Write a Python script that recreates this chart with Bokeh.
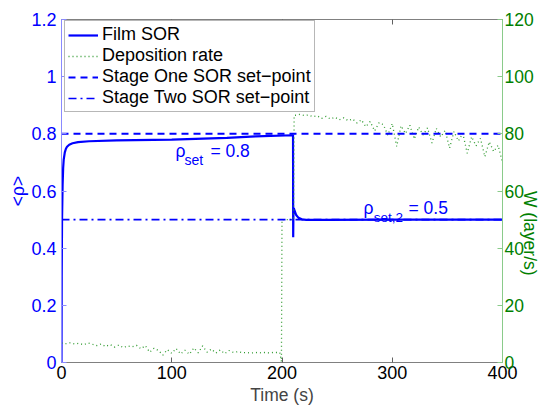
import math
from bokeh.plotting import figure
from bokeh.models import Range1d, LinearAxis, Legend, LegendItem, Label, FixedTicker
from bokeh.embed import file_html
from bokeh.resources import INLINE

# ---------------- data ----------------
sor_t = [0, 0.2, 0.5, 1, 1.5, 2, 3, 4, 5, 7, 10, 15, 25, 50, 100, 150, 176, 209.8,
         210.0, 210.15, 210.35, 210.7, 211.5, 213, 215, 218, 222, 240, 300, 400]
sor_v = [0, 0.30, 0.50, 0.62, 0.68, 0.71, 0.735, 0.748, 0.755, 0.762, 0.767, 0.771, 0.774, 0.777, 0.780, 0.786, 0.791, 0.795,
         0.795, 0.438, 0.52, 0.54, 0.53, 0.515, 0.506, 0.501, 0.499, 0.499, 0.5, 0.5]

dep_t = list(range(0, 197, 4)) + [198, 199.5, 200, 210.5, 211] + list(range(212, 401, 4))
dep_v = [6.8, 6.6, 6.9, 6.5, 6.7, 6.2, 6.8, 6.4,
         5.9, 6.5, 5.6, 6.3, 5.4, 6.1, 5.2, 5.8, 5.5, 6.0,
         4.8, 5.9, 3.6, 5.0, 4.2, 2.6, 4.5, 3.2, 4.9, 3.0, 4.3, 2.9, 5.1, 3.4, 5.8, 3.6, 4.7, 3.3, 4.4, 3.1, 4.2, 3.5, 3.8,
         3.4, 3.5, 3.3, 3.5, 3.4, 3.5, 3.4, 3.5, 3.5,
         3.5, 0.3, 50.0, 50.0, 86.5,
         86.5, 86.8, 86.4, 86.6, 86.0, 86.3, 85.4, 86.1, 85.2, 85.8,
         84.9, 85.6, 84.6, 85.2, 83.8, 84.9, 82.5, 84.3, 81.0, 83.9,
         83.2, 79.5, 83.6, 75.6, 82.8, 80.1, 83.0, 78.2, 82.4, 79.6,
         82.1, 76.8, 81.9, 78.9, 81.2, 75.0, 80.8, 77.5, 80.2, 73.2,
         79.0, 75.8, 78.4, 72.0, 77.2, 73.8, 76.0, 70.0]

setpoint_t = [0, 400]
stage_one = [0.8, 0.8]
stage_two = [0.5, 0.5]

x_ticks = [0, 100, 200, 300, 400]
rho_ticks = [0, 0.2, 0.4, 0.6, 0.8, 1, 1.2]
rho_tick_labels = ["0", "0.2", "0.4", "0.6", "0.8", "1", "1.2"]
w_ticks = [0, 20, 40, 60, 80, 100, 120]

FONT = "Liberation Sans"
BLUE = "#0000ff"
GREEN_TXT = "#008000"
GREEN_LINE = "#2f9a2f"
TICK_FS = "18px"
LBL_FS = "17.5px"

p = figure(width=554, height=407, output_backend="svg", toolbar_location=None,
           x_range=Range1d(0, 400), y_range=Range1d(0, 1.2),
           min_border_left=61, min_border_right=52, min_border_top=19, min_border_bottom=40)
p.extra_y_ranges = {"w": Range1d(0, 120)}
p.xgrid.visible = False
p.ygrid.visible = False
p.outline_line_color = None
p.background_fill_color = "white"
p.border_fill_color = "white"

# bottom axis
xa = p.xaxis[0]
xa.ticker = FixedTicker(ticks=x_ticks)
xa.axis_label = "Time (s)"
xa.axis_line_color = "#808080"
xa.major_tick_line_color = "#606060"
xa.major_tick_in = 5
xa.major_tick_out = 0
xa.minor_tick_line_color = None
xa.major_label_text_font = FONT
xa.major_label_text_font_size = TICK_FS
xa.major_label_text_color = "black"
xa.major_label_standoff = 3
xa.axis_label_text_font = FONT
xa.axis_label_text_font_size = LBL_FS
xa.axis_label_text_font_style = "normal"
xa.axis_label_standoff = 3

# left axis
ya = p.yaxis[0]
ya.ticker = FixedTicker(ticks=rho_ticks)
ya.major_label_overrides = dict(zip(rho_ticks, rho_tick_labels))
ya.axis_label = "<ρ>"
ya.axis_line_color = "#8a8aff"
ya.major_tick_line_color = "#8a8aff"
ya.major_tick_in = 5
ya.major_tick_out = 0
ya.minor_tick_line_color = None
ya.major_label_text_font = FONT
ya.major_label_text_font_size = TICK_FS
ya.major_label_text_color = BLUE
ya.major_label_standoff = 5
ya.axis_label_text_font = FONT
ya.axis_label_text_font_size = LBL_FS
ya.axis_label_text_font_style = "normal"
ya.axis_label_text_color = BLUE
ya.axis_label_standoff = 0

# right axis
ra = LinearAxis(y_range_name="w", ticker=FixedTicker(ticks=w_ticks), axis_label="W (layer/s)")
ra.axis_line_color = "#8acb8a"
ra.major_tick_line_color = "#8acb8a"
ra.major_tick_in = 5
ra.major_tick_out = 0
ra.minor_tick_line_color = None
ra.major_label_text_font = FONT
ra.major_label_text_font_size = "17.5px"
ra.major_label_text_color = GREEN_TXT
ra.major_label_standoff = 2
ra.axis_label_text_font = FONT
ra.axis_label_text_font_size = LBL_FS
ra.axis_label_text_font_style = "normal"
ra.axis_label_text_color = GREEN_TXT
ra.axis_label_standoff = -7
ra.axis_label_orientation = -math.pi / 2
p.add_layout(ra, "right")

# top axis (ticks only, labels not drawn)
ta = LinearAxis(ticker=FixedTicker(ticks=x_ticks))
ta.axis_line_color = "#808080"
ta.major_tick_line_color = "#606060"
ta.major_tick_in = 5
ta.major_tick_out = 0
ta.minor_tick_line_color = None
ta.major_label_text_font_size = "1px"
ta.major_label_text_color = None
ta.major_label_text_alpha = 0
ta.major_label_standoff = 0
p.add_layout(ta, "above")

# glyphs
r_sor = p.line(sor_t, sor_v, line_color=BLUE, line_width=2.2)
r_dep = p.line(dep_t, dep_v, y_range_name="w", line_color=GREEN_LINE, line_width=1.3, line_dash="1 3")
r_s1 = p.line(setpoint_t, stage_one, line_color=BLUE, line_width=2, line_dash="7 5")
r_s2 = p.line(setpoint_t, stage_two, line_color=BLUE, line_width=1.6, line_dash="8 4 2 4")

legend = Legend(items=[
    LegendItem(label="Film SOR", renderers=[r_sor]),
    LegendItem(label="Deposition rate", renderers=[r_dep]),
    LegendItem(label="Stage One SOR set\u2212point", renderers=[r_s1]),
    LegendItem(label="Stage Two SOR set\u2212point", renderers=[r_s2]),
])
legend.location = (3, 250)
legend.margin = 0
legend.padding = 3
legend.spacing = 0
legend.glyph_height = 20
legend.label_height = 20
legend.glyph_width = 30
legend.label_standoff = 4
legend.label_text_font = FONT
legend.label_text_font_size = "18px"
legend.label_text_color = "black"
legend.border_line_color = "#707070"
legend.border_line_width = 1
legend.background_fill_color = "white"
legend.background_fill_alpha = 1
p.add_layout(legend, "center")

# annotations
def add_label(x, y, text, size):
    p.add_layout(Label(x=x, y=y, text=text, text_font=FONT, text_font_size=size,
                       text_color=BLUE, text_baseline="alphabetic", text_align="left"))

add_label(103.4, 0.741, "ρ", "17.5px")
add_label(111.6, 0.707, "set", "14px")
add_label(135.1, 0.741, "= 0.8", "17.5px")
add_label(273.9, 0.541, "ρ", "17.5px")
add_label(283.2, 0.507, "set,2", "13.5px")
add_label(314.7, 0.541, "= 0.5", "17.5px")

open("out.html", "w").write(file_html(p, INLINE))
